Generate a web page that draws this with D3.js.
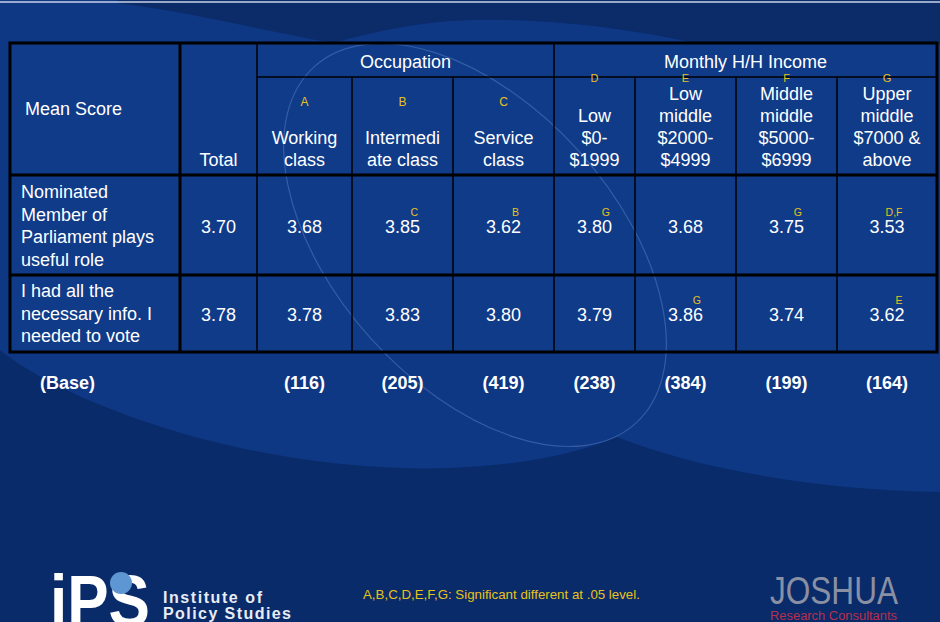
<!DOCTYPE html>
<html>
<head>
<meta charset="utf-8">
<script src="https://cdn.jsdelivr.net/npm/d3@7"></script>
<style>
  body { margin: 0; background: #0a2b68; }
  svg { display: block; }
  text { font-family: "Liberation Sans", Arial, sans-serif; }
</style>
</head>
<body>
<div id="viz"></div>
<script>
// table content
const groups = ['Occupation', 'Monthly H/H Income'];
const colKeys = ['Total', 'A', 'B', 'C', 'D', 'E', 'F', 'G'];
const colLetters = ['', 'A', 'B', 'C', 'D', 'E', 'F', 'G'];
const colLabels = [
  ['Total'],
  ['Working', 'class'],
  ['Intermedi', 'ate class'],
  ['Service', 'class'],
  ['Low', '$0-', '$1999'],
  ['Low', 'middle', '$2000-', '$4999'],
  ['Middle', 'middle', '$5000-', '$6999'],
  ['Upper', 'middle', '$7000 &', 'above']
];
const rowLabels = [
  ['Nominated', 'Member of', 'Parliament plays', 'useful role'],
  ['I had all the', 'necessary info. I', 'needed to vote']
];
const values = [
  [3.70, 3.68, 3.85, 3.62, 3.80, 3.68, 3.75, 3.53],
  [3.78, 3.78, 3.83, 3.80, 3.79, 3.86, 3.74, 3.62]
];
const sigs = [
  ['', '', 'C', 'B', 'G', '', 'G', 'D,F'],
  ['', '', '', '', '', 'G', '', 'E']
];
const bases = [null, 116, 205, 419, 238, 384, 199, 164];
const footnote = 'A,B,C,D,E,F,G: Significant different at .05 level.';

const width = 940, height = 622;
const yellow = '#e8c21a';

let svg = d3.select('#viz').append('svg')
  .attr('width', width)
  .attr('height', height);

// background: lighter blue with darker swooshes top and bottom
svg.append('rect').attr('width', width).attr('height', height).attr('fill', '#0e3784');
svg.append('path')
  .attr('d', 'M117,3 C180,10 260,30 333,43 C380,30 420,22 470,20 C530,18 620,25 703,45 L940,45 L940,0 L117,0 Z')
  .attr('fill', '#0b2b69');
svg.append('path')
  .attr('d', 'M0,350 C60,400 250,475 450,468 C530,465 580,452 617,437 C700,470 820,490 940,492 L940,622 L0,622 Z')
  .attr('fill', '#0a2b69');
svg.append('line')
  .attr('x1', 0).attr('x2', width).attr('y1', 2).attr('y2', 2)
  .attr('stroke', '#c9d3e8').attr('stroke-width', 1.5);

// layout
const edges = [10, 180, 257, 352, 453, 554, 635, 736, 837, 937];
const xLeft = d3.scaleOrdinal().domain(colKeys).range(edges.slice(1, 9));
const xRight = d3.scaleOrdinal().domain(colKeys).range(edges.slice(2));
const xMid = k => (xLeft(k) + xRight(k)) / 2;
const tableTop = 43, sub = 77, headBottom = 175, rowBottoms = [275, 352];

svg.append('rect')
  .attr('x', edges[0]).attr('y', tableTop)
  .attr('width', edges[9] - edges[0]).attr('height', rowBottoms[1] - tableTop)
  .attr('fill', '#0f3c8a').attr('opacity', 0.85);

// faint tilted ellipse
svg.append('ellipse')
  .attr('cx', 475).attr('cy', 245).attr('rx', 240).attr('ry', 140)
  .attr('transform', 'rotate(48,475,245)')
  .attr('fill', 'none').attr('stroke', '#5a7fc2').attr('stroke-width', 1.2).attr('opacity', 0.5);

// grid lines
let grid = svg.append('g').attr('stroke', '#000');
grid.append('line').attr('x1', xLeft('A')).attr('x2', edges[9]).attr('y1', sub).attr('y2', sub).attr('stroke-width', 1.5);
colKeys.forEach(function(k, i) {
  if (i < 2) return;
  let startY = (k === 'D') ? tableTop : sub;
  grid.append('line').attr('x1', xLeft(k)).attr('x2', xLeft(k))
    .attr('y1', startY).attr('y2', rowBottoms[1]).attr('stroke-width', 1.5);
});
grid.append('line').attr('x1', xLeft('A')).attr('x2', xLeft('A'))
  .attr('y1', tableTop).attr('y2', rowBottoms[1]).attr('stroke-width', 1.5);
grid.append('line').attr('x1', edges[1]).attr('x2', edges[1])
  .attr('y1', tableTop).attr('y2', rowBottoms[1]).attr('stroke-width', 3);
[headBottom, rowBottoms[0]].forEach(function(y) {
  grid.append('line').attr('x1', edges[0]).attr('x2', edges[9])
    .attr('y1', y).attr('y2', y).attr('stroke-width', 3);
});
grid.append('rect')
  .attr('x', edges[0]).attr('y', tableTop)
  .attr('width', edges[9] - edges[0]).attr('height', rowBottoms[1] - tableTop)
  .attr('fill', 'none').attr('stroke-width', 3);

let txt = svg.append('g').attr('fill', '#fff').attr('font-size', 18);

// group headers
txt.append('text').attr('x', (xLeft('A') + xRight('C')) / 2).attr('y', 68)
  .attr('text-anchor', 'middle').text(groups[0]);
txt.append('text').attr('x', (xLeft('D') + xRight('G')) / 2).attr('y', 68)
  .attr('text-anchor', 'middle').text(groups[1]);
txt.append('text').attr('x', 25).attr('y', 115).text('Mean Score');

// column headers, bottom aligned
colKeys.forEach(function(k, i) {
  let lines = colLabels[i];
  lines.forEach(function(l, j) {
    txt.append('text')
      .attr('x', xMid(k)).attr('y', 166 - (lines.length - 1 - j) * 22)
      .attr('text-anchor', 'middle').text(l);
  });
  if (colLetters[i]) {
    txt.append('text')
      .attr('x', xMid(k)).attr('y', i <= 3 ? 106 : 82)
      .attr('text-anchor', 'middle').attr('font-size', i <= 3 ? 12 : 11)
      .attr('fill', yellow).text(colLetters[i]);
  }
});

// body rows
const valBase = [233, 321];
const labelFirst = [198, 297];
rowLabels.forEach(function(lines, r) {
  lines.forEach(function(l, j) {
    txt.append('text').attr('x', 21).attr('y', labelFirst[r] + j * 22.5).text(l);
  });
  values[r].forEach(function(v, c) {
    let k = colKeys[c];
    let t = txt.append('text')
      .attr('x', xMid(k)).attr('y', valBase[r])
      .attr('text-anchor', 'middle').text(d3.format('.2f')(v));
    if (sigs[r][c]) {
      let w = t.node().getComputedTextLength();
      txt.append('text')
        .attr('x', xMid(k) + w / 2 - 2).attr('y', valBase[r] - 17)
        .attr('text-anchor', 'end').attr('font-size', 10.5)
        .attr('fill', yellow).text(sigs[r][c]);
    }
  });
});

// base row
txt.append('text').attr('x', 40).attr('y', 389).attr('font-weight', 'bold').text('(Base)');
bases.forEach(function(b, c) {
  if (b === null) return;
  txt.append('text')
    .attr('x', xMid(colKeys[c])).attr('y', 389)
    .attr('text-anchor', 'middle').attr('font-weight', 'bold')
    .text('(' + b + ')');
});

// footer
svg.append('text').attr('x', 363).attr('y', 599)
  .attr('font-size', 13.3).attr('fill', yellow).text(footnote);

let ips = svg.append('g');
ips.append('text').attr('x', 50).attr('y', 626)
  .attr('font-size', 72).attr('font-weight', 'bold').attr('fill', '#fff')
  .attr('font-family', '"DejaVu Sans", sans-serif')
  .attr('textLength', 100).attr('lengthAdjust', 'spacingAndGlyphs').text('iPS');
ips.append('circle').attr('cx', 121).attr('cy', 583).attr('r', 11).attr('fill', '#5d96d2');
ips.append('text').attr('x', 163).attr('y', 603)
  .attr('font-size', 16).attr('font-weight', 'bold').attr('fill', '#e8ecf4')
  .attr('font-family', '"DejaVu Sans", sans-serif')
  .attr('textLength', 99).attr('lengthAdjust', 'spacing').text('Institute of');
ips.append('text').attr('x', 163).attr('y', 619)
  .attr('font-size', 16).attr('font-weight', 'bold').attr('fill', '#e8ecf4')
  .attr('font-family', '"DejaVu Sans", sans-serif')
  .attr('textLength', 128).attr('lengthAdjust', 'spacing').text('Policy Studies');

svg.append('text').attr('x', 770).attr('y', 604)
  .attr('font-size', 38).attr('fill', '#8a90a4')
  .attr('font-family', '"DejaVu Sans", sans-serif')
  .attr('textLength', 128).attr('lengthAdjust', 'spacingAndGlyphs').text('JOSHUA');
svg.append('text').attr('x', 770).attr('y', 620)
  .attr('font-size', 12.5).attr('fill', '#b8304e')
  .attr('textLength', 127).attr('lengthAdjust', 'spacingAndGlyphs').text('Research Consultants');
</script>
</body>
</html>
